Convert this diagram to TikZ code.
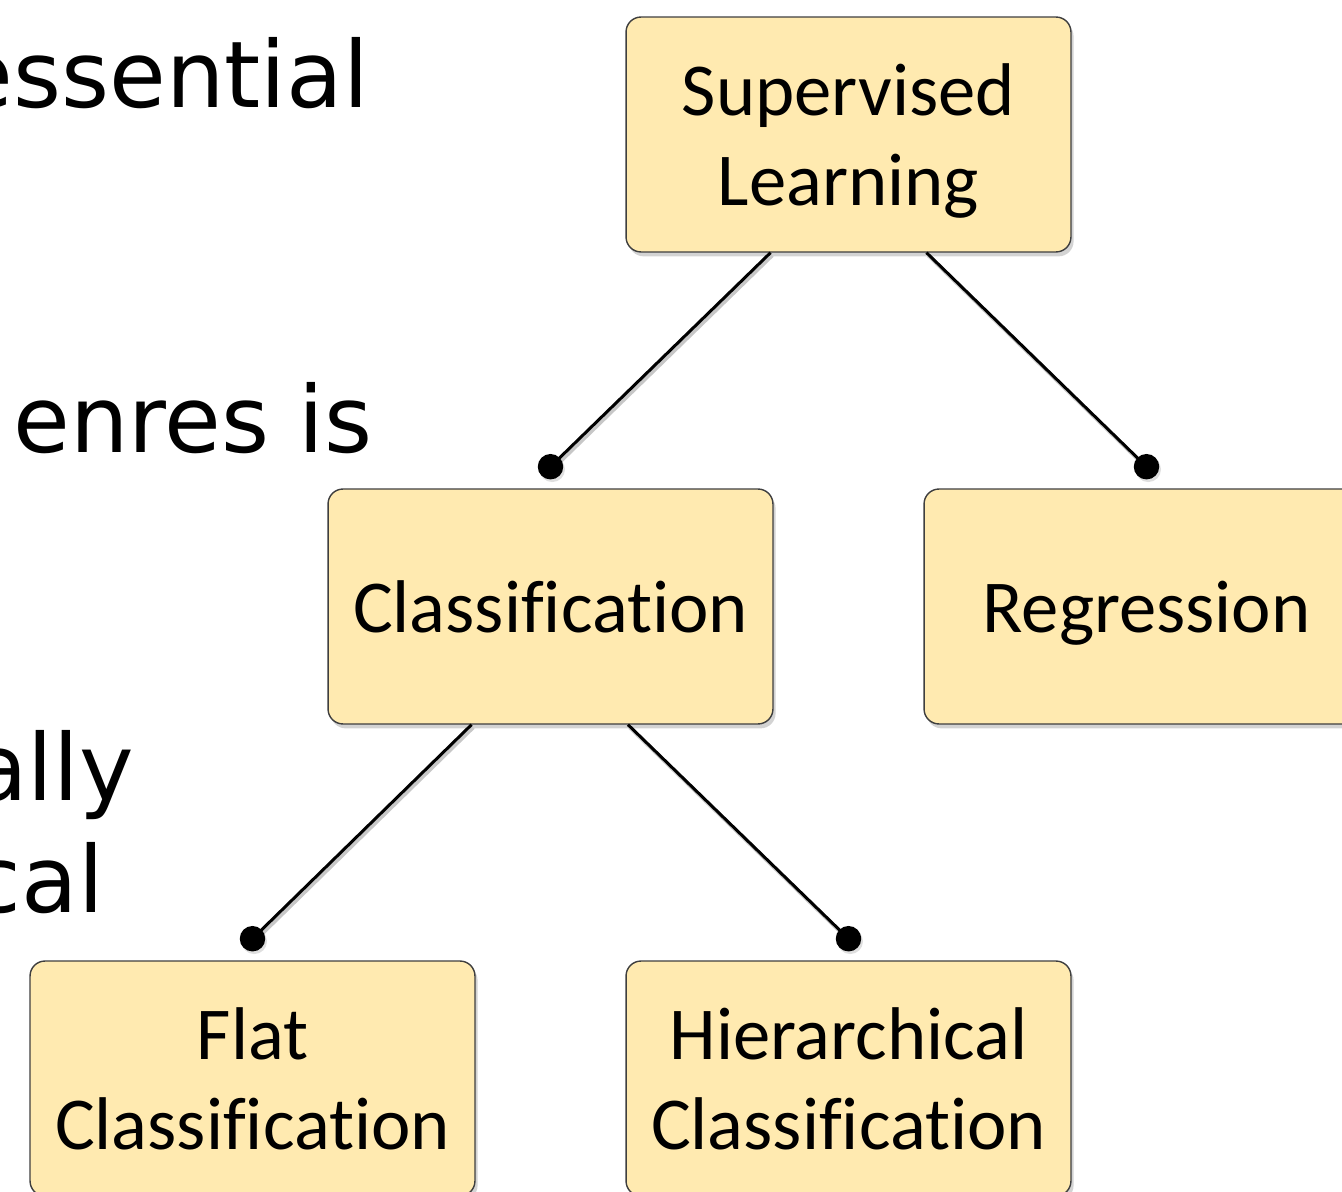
\documentclass[tikz,border=0pt]{standalone}
\usepackage{fontspec}
\setmainfont[Ligatures=NoCommon]{Carlito}
\newfontfamily\slidefont{DejaVu Sans}
\usetikzlibrary{shadows}
\definecolor{boxfill}{HTML}{FFEAB0}
\definecolor{boxline}{HTML}{3F3F3F}
\tikzstyle{box} = [rectangle, rounded corners=0.3cm, draw=boxline, line width=0.8pt, fill=boxfill,
  minimum width=8.9cm, minimum height=4.7cm, align=center, text depth=0pt,
  font=\fontsize{42.5}{51}\selectfont,
  drop shadow={shadow xshift=1.5pt, shadow yshift=-2.5pt, opacity=0.35}]
\tikzstyle{joint} = [circle, fill, minimum size=14.5pt, inner sep=0pt,
  drop shadow={shadow xshift=1pt, shadow yshift=-1.5pt, opacity=0.25}]
\tikzstyle{link} = [line width=1.7pt,
  preaction={draw=black!22, line width=2.2pt, transform canvas={shift={(1pt,-1.5pt)}}}]
\tikzstyle{slide} = [inner sep=0pt, anchor=base east, font=\slidefont\fontsize{52.5}{63}\selectfont]

\begin{document}
\begin{tikzpicture}[x=0.02cm,y=-0.02cm]
			\useasboundingbox (0,0) rectangle (1342,1192);
			\node[slide] (w1) at (369,108) {essential};
			\node[slide] (w2) at (373,453) {enres is};
			\node[slide] (w3) at (134,800) {ally};
			\node[slide] (w4) at (104,912) {cal};
			\node[box] (sup) at (848.5,134.5) {Supervised\\Learning};
			\node[box] (cls) at (550.5,606.5) {Classification};
			\node[box] (reg) at (1146.5,606.5) {Regression};
			\node[box] (flat) at (252.5,1078.5) {Flat\\Classification};
			\node[box] (hier) at (848.5,1078.5) {Hierarchical\\Classification};
			\draw[link] ([xshift=-1.56cm]sup.south) -- ([yshift=12.3pt]cls.north) coordinate (pcls);
			\draw[link] ([xshift=1.56cm]sup.south) -- ([yshift=12.3pt]reg.north) coordinate (preg);
			\draw[link] ([xshift=-1.58cm]cls.south) -- ([yshift=12.3pt]flat.north) coordinate (pflat);
			\draw[link] ([xshift=1.55cm]cls.south) -- ([yshift=12.3pt]hier.north) coordinate (phier);
			\node[joint] (dcls) at (pcls) {};
			\node[joint] (dreg) at (preg) {};
			\node[joint] (dflat) at (pflat) {};
			\node[joint] (dhier) at (phier) {};
		\end{tikzpicture}
\end{document}
